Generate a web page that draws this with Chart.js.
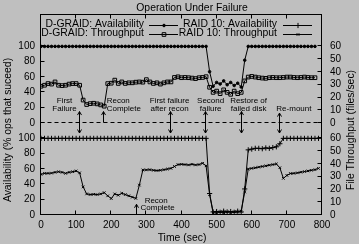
<!DOCTYPE html>
<html>
<head>
<meta charset="utf-8">
<script src="https://cdn.jsdelivr.net/npm/chart.js@4.4.1/dist/chart.umd.min.js"></script>
<style>
html, body { margin: 0; padding: 0; background: #bfbfbf; }
canvas { display: block; }
</style>
</head>
<body>
<canvas id="myChart" width="359" height="244"></canvas>
<script>
// sample times (sec)
const times = [0,10,20,30,40,50,60,70,80,90,100,110,120,130,140,150,160,170,180,190,
  200,210,220,230,240,250,260,270,280,290,300,310,320,330,340,350,360,370,380,390,
  400,410,420,430,440,450,460,470,480,490,500,510,520,530,540,550,560,570,580,590,
  600,610,620,630,640,650,660,670,680,690,700,710,720,730,740,750,760,770,780,790];

// D-GRAID (top panel), availability in % and throughput in files/sec
const dgraidAvail = [100,100,100,100,100,100,100,100,100,100,100,100,100,100,100,100,100,100,100,100,
  100,100,100,100,100,100,100,100,100,100,100,100,100,100,100,100,100,100,100,100,
  100,100,100,100,100,100,100,100,67,48,53,51,55,50,53,49,52,47,82,100,
  100,100,100,100,100,100,100,100,100,100,100,100,100,100,100,100,100,100,100];
const dgraidTput = [28.8,29.6,30.9,30.5,32.2,29.6,29.3,29.6,30.5,30.9,30.9,29.6,18,14.5,15.2,15.5,15,14.2,13.2,30.9,
  31.2,33.6,31,32.2,31,31.5,31.5,32,32.2,32,34,32.2,31,31.5,30.5,31.5,32.2,32.2,35.7,36.2,
  35.5,35.7,35.5,35.2,34.8,35.5,35.7,36.3,28,24,25,23,26,24,22.5,25,23,24,33,36,
  36.5,36,35.5,35.2,35,35.5,35.7,35.5,35.5,35.7,36,36,35.7,35.5,35.7,36,35.7,35.5,35.5];

// RAID 10 (bottom panel)
const raidAvail = [100,100,100,100,100,100,100,100,100,100,100,100,100,100,100,100,100,100,100,100,
  100,100,100,100,100,100,100,100,100,100,100,100,100,100,100,100,100,100,100,100,
  100,100,100,100,100,100,100,100,28,4,4.5,3.5,5,4,4.5,3.5,5,4,34,85,
  86,87,87,86.5,87.5,87,88,89,93,100,100,100,100,100,100,100,100,100,100,100];
const raidTput = [31.8,32.6,32.6,32.8,33.4,33.9,33.4,32.6,33.4,33.9,34.5,33,22,16.5,16,16.2,16,16.5,17.5,15,
  12.9,16.5,15.5,17,16,15,14,13,23.4,35.3,35.3,35.5,35,34.8,35,35.5,36,36.5,38,39.5,
  39.7,39.5,39.2,39.7,39.2,39.5,40.5,38.5,16,1.5,2,2.5,1.8,2.5,2,2.5,2.3,3,18,36,
  36.5,37,37.5,38,38.5,39,39.5,40,37,28.7,31,32.5,32.6,33,33.5,34,34.5,35,35.5,36.5];

// the top panel sits above the bottom one on the same axes
const topOffsetAvail = 120;   // % units
const topOffsetTput = 72;     // files/sec units

const leftTickValues = [0,20,40,60,80,100,120,140,160,180,200,220];
const leftTickLabels = ['0','20','40','60','80','100','0','20','40','60','80','100'];
const rightTickValues = [0,10,20,30,40,50,60,72,82,92,102,112,122,132];
const rightTickLabels = ['0','10','20','30','40','50','60','0','10','20','30','40','50','60'];

// events marked with arrows
const eventTimes = [110, 180, 369, 470, 572, 680];
const eventLabels = [['First','Failure'], ['Recon','Complete'], ['First failure','after recon'],
  ['Second','failure'], ['Restore of','failed disk'], ['Re-mount']];
const eventLabelTimes = [67, 187, 366, 483, 591, 720];
const reconBottomTime = 273;

const FONT = '"Liberation Sans", Arial, sans-serif';

function toXY(vals, off) {
  return vals.map((v, i) => ({x: times[i], y: v + off}));
}

function text(ctx, s, x, y, size, align) {
  ctx.font = size + 'px ' + FONT;
  ctx.textAlign = align || 'center';
  ctx.textBaseline = 'middle';
  ctx.fillText(s, x, y);
}

function arrowHead(ctx, x, y, dir) {
  // dir = 1 pointing down, -1 pointing up
  ctx.beginPath();
  ctx.moveTo(x - 2, y - 3.5 * dir);
  ctx.lineTo(x, y);
  ctx.lineTo(x + 2, y - 3.5 * dir);
  ctx.stroke();
}

const decor = {
  id: 'decor',
  afterDatasetsDraw(chart) {
    const ctx = chart.ctx, a = chart.chartArea;
    const sx = chart.scales.x, sy = chart.scales.y, sy2 = chart.scales.y2;
    const L = Math.round(a.left) - 0.5, R = Math.round(a.right) - 0.5;
    const T = Math.round(a.top) - 0.5, B = Math.round(a.bottom) - 0.5;
    ctx.save();
    ctx.strokeStyle = '#000';
    ctx.fillStyle = '#000';
    ctx.lineWidth = 1;
    ctx.strokeRect(L, T, R - L, B - T);

    // inward ticks
    ctx.beginPath();
    sx.ticks.forEach(t => {
      const px = Math.round(sx.getPixelForValue(t.value)) - 0.5;
      ctx.moveTo(px, B); ctx.lineTo(px, B - 4);
      ctx.moveTo(px, T); ctx.lineTo(px, T + 4);
    });
    sy.ticks.forEach(t => {
      const py = Math.round(sy.getPixelForValue(t.value)) - 0.5;
      ctx.moveTo(L, py); ctx.lineTo(L + 4, py);
    });
    sy2.ticks.forEach(t => {
      const py = Math.round(sy2.getPixelForValue(t.value)) - 0.5;
      ctx.moveTo(R, py); ctx.lineTo(R - 4, py);
    });
    ctx.stroke();

    // dashed zero line of the top panel
    const zy = Math.round(sy.getPixelForValue(topOffsetAvail)) - 0.5;
    ctx.setLineDash([4, 3]);
    ctx.beginPath();
    ctx.moveTo(L, zy); ctx.lineTo(R, zy);
    ctx.stroke();
    ctx.setLineDash([]);

    // event arrows and labels
    const yTop = sy.getPixelForValue(135), yBot = sy.getPixelForValue(107);
    eventTimes.forEach((t, i) => {
      const px = Math.round(sx.getPixelForValue(t)) - 0.5;
      ctx.beginPath();
      if (i === 1) {
        ctx.moveTo(px, zy); ctx.lineTo(px, yTop);
        ctx.stroke();
        arrowHead(ctx, px, yTop, -1);
      } else {
        const y0 = i === 5 ? sy.getPixelForValue(133) : yTop;
        ctx.moveTo(px, y0); ctx.lineTo(px, yBot);
        ctx.stroke();
        arrowHead(ctx, px, yBot, 1);
        arrowHead(ctx, px, y0, -1);
      }
      const lx = sx.getPixelForValue(eventLabelTimes[i]);
      const lines = eventLabels[i];
      const align = i === 1 ? 'left' : 'center';
      const l1 = sy.getPixelForValue(148.5), l2 = sy.getPixelForValue(139);
      if (lines.length === 2) {
        text(ctx, lines[0], lx, l1, 8, align);
        text(ctx, lines[1], lx, l2, 8, align);
      } else {
        text(ctx, lines[0], lx, l2, 8, align);
      }
    });
    // recon complete for RAID 10
    const rx = Math.round(sx.getPixelForValue(reconBottomTime)) - 0.5;
    const ry = sy.getPixelForValue(14);
    ctx.beginPath();
    ctx.moveTo(rx, B); ctx.lineTo(rx, ry);
    ctx.stroke();
    arrowHead(ctx, rx, ry, -1);
    text(ctx, 'Recon', sx.getPixelForValue(328), sy.getPixelForValue(18), 8);
    text(ctx, 'Complete', sx.getPixelForValue(332), sy.getPixelForValue(10), 8);

    // legend
    const ds = chart.data.datasets;
    const cells = [
      [0, a.left + 103, a.top + 9.5, a.left + 108],
      [1, a.left + 103, a.top + 18.5, a.left + 108],
      [2, a.left + 236, a.top + 9.5, a.left + 242],
      [3, a.left + 236, a.top + 18.5, a.left + 242]
    ];
    cells.forEach(c => {
      const d = ds[c[0]];
      ctx.fillStyle = '#000';
      text(ctx, d.label, c[1], c[2], 10.4, 'right');
      const y = Math.round(c[2]) + 0.5;
      ctx.beginPath();
      ctx.moveTo(c[3], y); ctx.lineTo(c[3] + 29, y);
      ctx.stroke();
      ctx.fillStyle = d.pointBackgroundColor || '#000';
      Chart.helpers.drawPoint(ctx, {
        pointStyle: d.pointStyle, radius: d.pointRadius, borderWidth: 1, rotation: 0
      }, c[3] + 15, y);
    });
    ctx.fillStyle = '#000';

    // titles
    text(ctx, 'Operation Under Failure', 192, 8, 10.4);
    text(ctx, 'Time (sec)', 182, 238, 10.4);
    ctx.save();
    ctx.translate(8, 130);
    ctx.rotate(-Math.PI / 2);
    text(ctx, 'Availability (% ops that suceed)', 0, 0, 10.4);
    ctx.restore();
    ctx.save();
    ctx.translate(351, 130);
    ctx.rotate(-Math.PI / 2);
    text(ctx, 'File Throughput (files/sec)', 0, 0, 10.4);
    ctx.restore();
    ctx.restore();
  }
};

const tickFont = {family: FONT, size: 10};

new Chart('myChart', {
  type: 'line',
  data: {
    datasets: [
      {label: 'D-GRAID: Availability', data: toXY(dgraidAvail, topOffsetAvail), yAxisID: 'y',
       pointStyle: 'circle', pointRadius: 1.3},
      {label: 'D-GRAID: Throughput', data: toXY(dgraidTput, topOffsetTput), yAxisID: 'y2',
       pointStyle: 'rect', pointRadius: 2.6, pointBackgroundColor: 'rgba(0,0,0,0)'},
      {label: 'RAID 10: Availability', data: toXY(raidAvail, 0), yAxisID: 'y',
       pointStyle: 'cross', pointRadius: 2.6},
      {label: 'RAID 10: Throughput', data: toXY(raidTput, 0), yAxisID: 'y2',
       pointStyle: 'crossRot', pointRadius: 1.8}
    ]
  },
  options: {
    responsive: false,
    animation: false,
    devicePixelRatio: 1,
    layout: {padding: {top: 15, left: 0, right: 0, bottom: 0}},
    elements: {
      line: {borderColor: '#000', borderWidth: 1, tension: 0},
      point: {borderColor: '#000', backgroundColor: '#000', borderWidth: 1}
    },
    plugins: {legend: {display: false}, tooltip: {enabled: false}, title: {display: false}},
    scales: {
      x: {
        type: 'linear', min: 0, max: 800,
        grid: {display: false, drawTicks: false}, border: {display: false},
        ticks: {stepSize: 100, autoSkip: false, maxRotation: 0, padding: 4, color: '#000', font: tickFont},
        afterFit: s => { s.height = 29; }
      },
      y: {
        type: 'linear', position: 'left', min: 0, max: 261,
        grid: {display: false, drawTicks: false}, border: {display: false},
        afterBuildTicks: s => { s.ticks = leftTickValues.map(v => ({value: v})); },
        ticks: {autoSkip: false, padding: 6, color: '#000', font: tickFont,
          callback: v => leftTickLabels[leftTickValues.indexOf(v)]},
        afterFit: s => { s.width = 41; }
      },
      y2: {
        type: 'linear', position: 'right', min: 0, max: 156.6,
        grid: {display: false, drawTicks: false}, border: {display: false},
        afterBuildTicks: s => { s.ticks = rightTickValues.map(v => ({value: v})); },
        ticks: {autoSkip: false, padding: 8, color: '#000', font: tickFont,
          callback: v => rightTickLabels[rightTickValues.indexOf(v)]},
        afterFit: s => { s.width = 37; }
      }
    }
  },
  plugins: [decor]
});
</script>
</body>
</html>
